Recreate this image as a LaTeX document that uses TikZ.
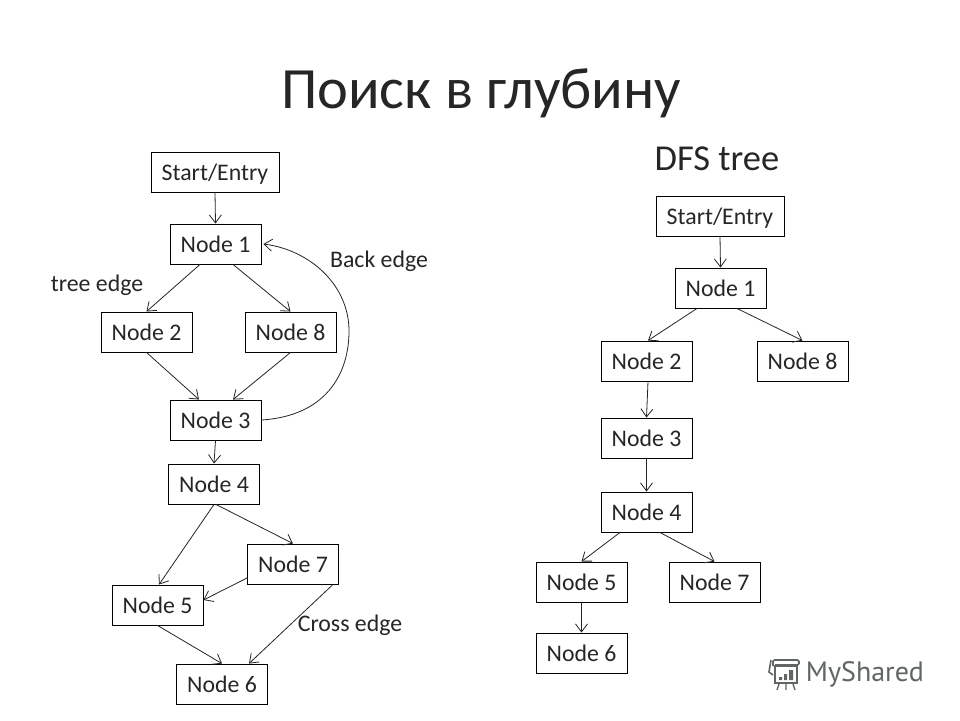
\documentclass[tikz,border=0pt]{standalone}
\usepackage{fontspec}
\setmainfont{Carlito}
\newfontfamily\logofont{PT Sans}
\usetikzlibrary{arrows.meta}
\definecolor{logogray}{HTML}{5F6664}
\tikzset{
  x=1pt,y=-1pt,
  box/.style={draw=black,line width=0.9pt,fill=white,minimum height=40pt,inner sep=0pt,text height=16pt,text depth=0pt,font=\fontsize{23.8}{26}\selectfont,text=black!85},
  nodebox/.style={box,minimum width=91pt},
  entrybox/.style={box,minimum width=128pt},
  link/.style={draw=black!85,line width=0.8pt,-{Straight Barb[length=8pt,width=12pt,line width=0.8pt]}},
  lbl/.style={inner sep=0pt,font=\fontsize{23.8}{26}\selectfont,text=black!85},
  logoline/.style={draw=logogray,line width=1.6pt}
}
\begin{document}
\begin{tikzpicture}
\useasboundingbox[fill=white] (0,0) rectangle (960,720);
\node[inner sep=0pt,font=\fontsize{58.5}{64}\selectfont,text=black!85] (title) at (481,93) {Поиск в глубину};
\node[inner sep=0pt,font=\fontsize{36.5}{40}\selectfont,text=black!85] (dfs) at (717,159) {DFS tree};
% left graph
\node[entrybox] (ls) at (215,172) {Start/Entry};
\node[nodebox] (l1) at (215.5,244) {Node 1};
\node[nodebox] (l2) at (146.5,332) {Node 2};
\node[nodebox] (l8) at (290.5,332) {Node 8};
\node[nodebox] (l3) at (215.5,420) {Node 3};
\node[nodebox] (l4) at (214,484) {Node 4};
\node[nodebox] (l7) at (293,564) {Node 7};
\node[nodebox] (l5) at (157.5,605) {Node 5};
\node[nodebox] (l6) at (222,684) {Node 6};
\node[lbl] (te) at (97,285) {tree edge};
\node[lbl] (be) at (379,261) {Back edge};
\node[lbl] (ce) at (350,625) {Cross edge};
\draw[link] (ls.south) -- (l1.north);
\draw[link] ([xshift=-15.5pt]l1.south) -- (l2.north);
\draw[link] ([xshift=17.5pt]l1.south) -- (l8.north);
\draw[link] (l2.south) -- ([xshift=-16.5pt]l3.north);
\draw[link] (l8.south) -- ([xshift=17.5pt]l3.north);
\draw[link] (l3.south) -- (l4.north);
\draw[link] (l4.south) -- ([xshift=1.5pt]l5.north);
\draw[link] ([xshift=2pt]l4.south) -- (l7.north);
\draw[link] ([yshift=-14pt]l7.west) -- ([yshift=5pt]l5.east);
\draw[link] (l5.south) -- (l6.north);
\draw[link] ([xshift=40pt]l7.south) -- ([xshift=27pt]l6.north);
\draw[link] (l3.east) .. controls (325,416) and (349,375) .. (349,331) .. controls (349,285) and (310,250) .. ([xshift=2pt]l1.east);
% right graph
\node[entrybox] (rs) at (720,216) {Start/Entry};
\node[nodebox] (r1) at (720.5,288) {Node 1};
\node[nodebox] (r2) at (646.5,361) {Node 2};
\node[nodebox] (r8) at (802.5,361) {Node 8};
\node[nodebox] (r3) at (646.5,438) {Node 3};
\node[nodebox] (r4) at (646.5,512) {Node 4};
\node[nodebox] (r5) at (581.5,582) {Node 5};
\node[nodebox] (r7) at (714.5,582) {Node 7};
\node[nodebox] (r6) at (581.5,653) {Node 6};
\draw[link] (rs.south) -- (r1.north);
\draw[link] ([xshift=-23.5pt]r1.south) -- ([xshift=1.5pt]r2.north);
\draw[link] ([xshift=16.5pt]r1.south) -- (r8.north);
\draw[link] ([xshift=1.5pt]r2.south) -- (r3.north);
\draw[link] (r3.south) -- (r4.north);
\draw[link] ([xshift=-26.5pt]r4.south) -- (r5.north);
\draw[link] ([xshift=13.5pt]r4.south) -- (r7.north);
\draw[link] (r5.south) -- (r6.north);
% watermark
\draw[logoline,rounded corners=1.5pt] (773,666) -- (773,660) -- (799,660) -- (799,665) -- (775,665);
\draw[logoline] (771,660) -- (769,672) -- (773,675);
\draw[logoline] (775,666) rectangle (797,683);
\fill[logogray] (779,677) rectangle (782,680) (784,674) rectangle (787,680) (789,670) rectangle (793,680);
\draw[logoline,line width=1.3pt] (779,684) -- (777,690) (786,684) -- (786,690) (793,684) -- (795,690);
\node[inner sep=0pt,font=\logofont\fontsize{28}{32}\selectfont,text=logogray] (logo) at (865,674) {MyShared};
\end{tikzpicture}
\end{document}
